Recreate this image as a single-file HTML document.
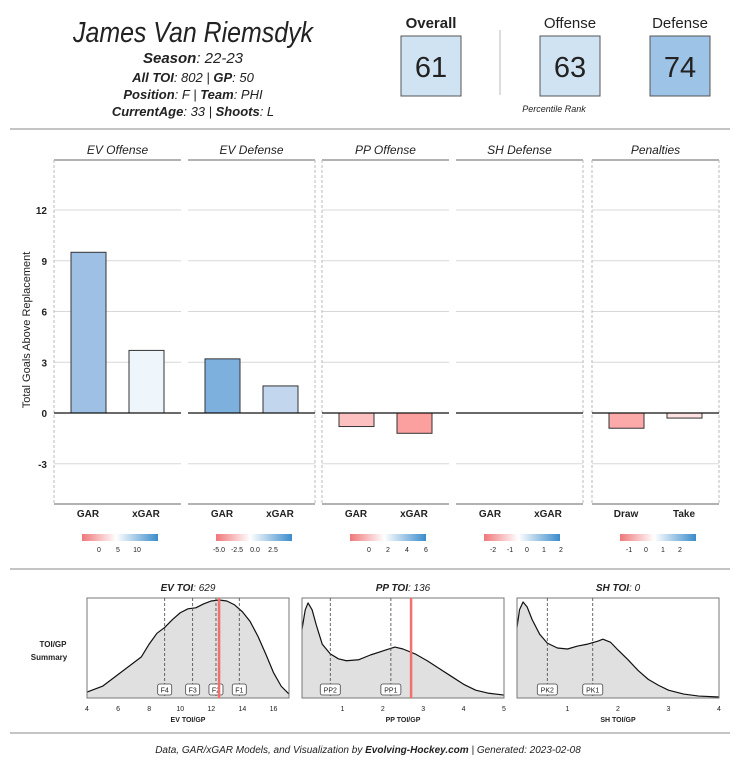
<!DOCTYPE html>
<html><head><meta charset="utf-8">
<style>
body{margin:0;background:#fff;font-family:"Liberation Sans","DejaVu Sans",sans-serif;}
svg{display:block}
text{font-family:"Liberation Sans","DejaVu Sans",sans-serif;fill:#222}
.it{font-style:italic}
</style></head>
<body>
<svg id="chart" width="736" height="763" viewBox="0 0 736 763">
  <g>
    <text x="193" y="42" text-anchor="middle" font-size="29" class="it" textLength="240" lengthAdjust="spacingAndGlyphs">James Van Riemsdyk</text>
    <text x="193" y="63" text-anchor="middle" font-size="15" class="it"><tspan font-weight="bold">Season</tspan>: 22-23</text>
    <text x="193" y="82" text-anchor="middle" font-size="13" class="it"><tspan font-weight="bold">All TOI</tspan>: 802 | <tspan font-weight="bold">GP</tspan>: 50</text>
    <text x="193" y="99" text-anchor="middle" font-size="13" class="it"><tspan font-weight="bold">Position</tspan>: F | <tspan font-weight="bold">Team</tspan>: PHI</text>
    <text x="193" y="116" text-anchor="middle" font-size="13" class="it"><tspan font-weight="bold">CurrentAge</tspan>: 33 | <tspan font-weight="bold">Shoots</tspan>: L</text>

    <text x="431" y="28" text-anchor="middle" font-size="15" font-weight="bold">Overall</text>
    <rect x="401" y="36" width="60" height="60" fill="#cfe3f2" stroke="#555"/>
    <text x="431" y="77" text-anchor="middle" font-size="29">61</text>
    <line x1="500" y1="30" x2="500" y2="95" stroke="#bbb"/>
    <text x="570" y="28" text-anchor="middle" font-size="15">Offense</text>
    <rect x="540" y="36" width="60" height="60" fill="#cfe3f2" stroke="#555"/>
    <text x="570" y="77" text-anchor="middle" font-size="29">63</text>
    <text x="680" y="28" text-anchor="middle" font-size="15">Defense</text>
    <rect x="650" y="36" width="60" height="60" fill="#9dc3e6" stroke="#555"/>
    <text x="680" y="77" text-anchor="middle" font-size="29">74</text>
    <text x="554" y="112" text-anchor="middle" font-size="9" class="it">Percentile Rank</text>
  </g>
  <line x1="10" y1="129" x2="730" y2="129" stroke="#888"/>
  <line x1="10" y1="569" x2="730" y2="569" stroke="#888"/>
  <line x1="10" y1="733" x2="730" y2="733" stroke="#888"/>
  <text x="30" y="330" text-anchor="middle" font-size="11" transform="rotate(-90 30 330)">Total Goals Above Replacement</text>
  <text x="53" y="647" text-anchor="middle" font-size="8" font-weight="bold">TOI/GP</text>
  <text x="49" y="660" text-anchor="middle" font-size="8" font-weight="bold">Summary</text>
  <text x="368" y="753" text-anchor="middle" font-size="10" class="it">Data, GAR/xGAR Models, and Visualization by <tspan font-weight="bold">Evolving-Hockey.com</tspan> | Generated: 2023-02-08</text>
  <g id="bars"></g>
  <g id="dens"></g>
</svg>
<script>
// Bar chart data
const panelTitles = ["EV Offense","EV Defense","PP Offense","SH Defense","Penalties"];
const barCats = [["GAR","xGAR"],["GAR","xGAR"],["GAR","xGAR"],["GAR","xGAR"],["Draw","Take"]];
const barValues = [[9.5,3.7],[3.2,1.6],[-0.8,-1.2],[0,0],[-0.9,-0.3]];
const barColors = [["#9dc0e4","#eef5fb"],["#7eb0de","#c2d7ee"],["#fdc0c0","#fb9f9f"],["none","none"],["#fca9a9","#fde0e0"]];
const yTicks = [-3,0,3,6,9,12];
const legendTicks = [["0","5","10"],["-5.0","-2.5","0.0","2.5"],["0","2","4","6"],["-2","-1","0","1","2"],["-1","0","1","2"]];

// Density data
const densTitles = ["EV TOI","PP TOI","SH TOI"];
const densTitleVals = ["629","136","0"];
const densAxisTitles = ["EV TOI/GP","PP TOI/GP","SH TOI/GP"];
const densDomain = [[4,17],[0,5],[0,4]];
const densTickVals = [[4,6,8,10,12,14,16],[1,2,3,4,5],[1,2,3,4]];
const densX = [
 [4,5,6,7,7.5,8,8.5,9,9.5,10,10.5,11,11.5,12,12.5,13,13.5,14,14.5,15,15.5,16,16.5,17],
 [0,0.08,0.15,0.25,0.35,0.5,0.7,0.9,1.1,1.4,1.7,2,2.3,2.5,2.8,3.1,3.4,3.7,4,4.3,4.6,5],
 [0,0.05,0.12,0.2,0.3,0.45,0.6,0.8,1,1.2,1.4,1.6,1.7,1.85,2,2.2,2.4,2.6,2.8,3,3.3,3.6,4]
];
const densY = [
 [0.06,0.12,0.24,0.36,0.42,0.55,0.66,0.72,0.8,0.87,0.91,0.92,0.96,0.99,1.0,0.99,0.95,0.88,0.78,0.63,0.45,0.26,0.12,0.04],
 [0.7,0.9,0.97,0.9,0.75,0.55,0.45,0.4,0.38,0.39,0.44,0.48,0.52,0.5,0.45,0.38,0.3,0.22,0.14,0.08,0.05,0.03],
 [0.72,0.9,0.98,0.93,0.8,0.65,0.56,0.51,0.5,0.53,0.55,0.58,0.6,0.57,0.49,0.39,0.28,0.19,0.13,0.08,0.04,0.02,0.01]
];
const refLabels = [["F4","F3","F2","F1"],["PP2","PP1"],["PK2","PK1"]];
const refValues = [[9,10.8,12.3,13.8],[0.7,2.2],[0.6,1.5]];
const playerValues = [12.5,2.7,null];

const NS="http://www.w3.org/2000/svg";
function mk(tag,attrs,parent,txt){const e=document.createElementNS(NS,tag);for(const k in attrs)e.setAttribute(k,attrs[k]);if(txt!==undefined)e.textContent=txt;parent.appendChild(e);return e;}

const bars=document.getElementById('bars');
const pTop=160,pBot=504;
const yScale=v=>413-v*(203/12);
const panelX=[54,188,322,456,592], pw=127;
const dashLeft=[true,false,true,false,true], dashRight=[false,true,false,true,true];
panelTitles.forEach((t,i)=>{
  const x0=panelX[i];
  const g=mk('g',{},bars);
  
  
  const tt=mk('text',{x:x0+pw/2,y:154,'text-anchor':'middle','font-size':12,class:'it'},g,t);
  
  
  mk('line',{x1:x0,y1:pTop,x2:x0+pw,y2:pTop,stroke:'#666'},g);
  mk('line',{x1:x0,y1:pBot,x2:x0+pw,y2:pBot,stroke:'#666'},g);
  yTicks.forEach(v=>{
    mk('line',{x1:x0,y1:yScale(v),x2:x0+pw,y2:yScale(v),stroke:'#d8d8d8'},g);
  });
  if(dashLeft[i])mk('line',{x1:x0,y1:pTop,x2:x0,y2:pBot,stroke:'#bbb','stroke-dasharray':'3,2'},g);
  if(dashRight[i])mk('line',{x1:x0+pw,y1:pTop,x2:x0+pw,y2:pBot,stroke:'#bbb','stroke-dasharray':'3,2'},g);
  const cx=[x0+34,x0+92];
  barValues[i].forEach((v,j)=>{
    if(v!==0){
      const b=mk('rect',{x:cx[j]-17,y:Math.min(yScale(v),yScale(0)),width:35,height:Math.abs(yScale(v)-yScale(0)),fill:barColors[i][j],stroke:'#333','stroke-width':1},g);
      
      
    }
    const lab=mk('text',{x:cx[j],y:517,'text-anchor':'middle','font-size':10,'font-weight':'bold',fill:'#444'},g,barCats[i][j]);
    
    
  });
  mk('line',{x1:x0,y1:yScale(0),x2:x0+pw,y2:yScale(0),stroke:'#111','stroke-width':1.3},g);
  const gid='grad'+i;
  const defs=mk('defs',{},g);
  const lg=mk('linearGradient',{id:gid,x1:0,x2:1,y1:0,y2:0},defs);
  mk('stop',{offset:'0','stop-color':'#f0777a'},lg);
  mk('stop',{offset:'0.45','stop-color':'#ffffff'},lg);
  mk('stop',{offset:'1','stop-color':'#3a8ccb'},lg);
  const lgr=mk('rect',{x:x0+28,y:534,width:76,height:7,fill:'url(#'+gid+')'},g);
  
  
  legendTicks[i].forEach((s,k)=>{
    const lx = i==0 ? x0+45+k*19 : i==1 ? x0+31+k*18 : i==2 ? x0+47+k*19 : x0+37+k*17;
    mk('text',{x:lx,y:552,'text-anchor':'middle','font-size':7,fill:'#333'},g,s);
  });
});
yTicks.forEach(v=>{
  const t=mk('text',{x:47,y:yScale(v)+4,'text-anchor':'end','font-size':10,'font-weight':'bold',fill:'#444'},bars,String(v));
  
  
});

const dens=document.getElementById('dens');
const dX=[87,302,517], dw=202, dTop=598, dBot=698;
densTitles.forEach((t,i)=>{
  const x0=dX[i];
  const g=mk('g',{},dens);
  
  
  const [d0,d1]=densDomain[i];
  const sx=v=>x0+(v-d0)/(d1-d0)*dw;
  const sy=v=>dBot-v*(dBot-dTop-2);
  const tt=mk('text',{x:x0+dw/2,y:591,'text-anchor':'middle','font-size':10,class:'it'},g);
  mk('tspan',{'font-weight':'bold'},tt,t);
  mk('tspan',{},tt,': '+densTitleVals[i]);
  let d='M'+sx(densX[i][0])+','+dBot;
  densX[i].forEach((xv,k)=>{d+=' L'+sx(xv)+','+sy(densY[i][k]);});
  d+=' L'+sx(densX[i][densX[i].length-1])+','+dBot+' Z';
  const area=mk('path',{d:d,fill:'#e0e0e0',stroke:'none'},g);
  
  
  let ld='';
  densX[i].forEach((xv,k)=>{ld+=(k?' L':'M')+sx(xv)+','+sy(densY[i][k]);});
  mk('path',{d:ld,fill:'none',stroke:'#111','stroke-width':1.2,'stroke-linejoin':'round'},g);
  mk('rect',{x:x0,y:dTop,width:dw,height:dBot-dTop,fill:'none',stroke:'#777'},g);
  refValues[i].forEach((v,k)=>{
    mk('line',{x1:sx(v),y1:dTop,x2:sx(v),y2:dBot,stroke:'#444','stroke-dasharray':'3,2','stroke-width':0.8},g);
    const lw=refLabels[i][k].length>2?20:14;
    const r=mk('rect',{x:sx(v)-lw/2,y:684,width:lw,height:11,rx:2,fill:'#fff',stroke:'#444','stroke-width':0.8},g);
    
    
    mk('text',{x:sx(v),y:692.5,'text-anchor':'middle','font-size':7},g,refLabels[i][k]);
  });
  if(playerValues[i]!==null){
    const pl=mk('line',{x1:sx(playerValues[i]),y1:dTop,x2:sx(playerValues[i]),y2:dBot,stroke:'#f07070','stroke-width':2.5},g);
    
    
  }
  densTickVals[i].forEach(v=>{
    mk('text',{x:sx(v),y:711,'text-anchor':'middle','font-size':7,fill:'#666'},g,String(v));
  });
  const at=mk('text',{x:x0+dw/2,y:722,'text-anchor':'middle','font-size':7,'font-weight':'bold'},g,densAxisTitles[i]);
  
  
});
</script>
</body></html>
